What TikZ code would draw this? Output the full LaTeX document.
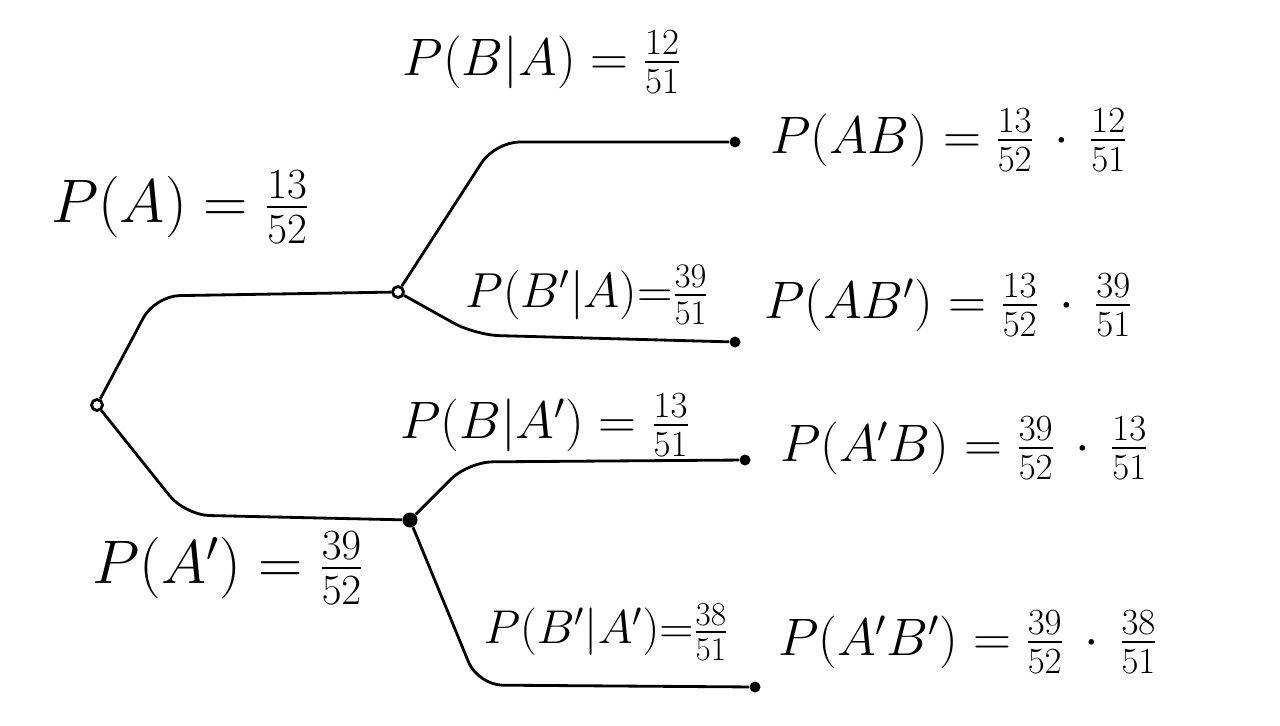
\RequirePackage{fix-cm}
\documentclass[tikz,border=0pt]{standalone}
\usepackage{amsmath}
\usepackage{tikz}
\usetikzlibrary{positioning}
\tikzset{
  branch/.style={line width=1.6pt, rounded corners=14pt},
  forkdot/.style={circle, draw, line width=1.6pt, fill=white, inner sep=0pt, minimum size=0.22cm},
  leafdot/.style={circle, fill, inner sep=0pt, minimum size=0.22cm},
  lbl/.style={font=\fontsize{30}{34}\selectfont, inner sep=1pt},
  biglbl/.style={lbl, font=\fontsize{35}{40}\selectfont}
}

\begin{document}
\begin{tikzpicture}[x=0.02cm, y=-0.02cm]
  \useasboundingbox (0,0) rectangle (1280,726);

  % tree points
  \node[forkdot] (root) at (97,405) {};
  \node[forkdot] (nA) at (398,292) {};
  \node[leafdot, minimum size=0.3cm] (nAc) at (410,520) {};
  \node[leafdot] (lAB) at (735,142) {};
  \node[leafdot] (lABc) at (735,342) {};
  \node[leafdot] (lAcB) at (745,460) {};
  \node[leafdot] (lAcBc) at (755,687) {};

  % branches
  \draw[branch] (root) -- (155,296) -- (nA);
  \draw[branch] (root) -- (185,515) -- (nAc);
  \draw[branch] (nA) -- (495,142) -- (lAB);
  \draw[branch] (nA) -- (475,335) -- (lABc);
  \draw[branch] (nAc) -- (468,462) -- (lAcB);
  \draw[branch] (nAc) -- (478,685) -- (lAcBc);

  % probabilities on the branches
  \node[biglbl] (pA) at (180,207) {$P(A)=\tfrac{13}{52}$};
  \node[biglbl] (pAc) at (228,568) {$P(A')=\tfrac{39}{52}$};
  \node[lbl] (pBA) at (542,62) {$P(B|A)=\tfrac{12}{51}$};
  \node[lbl, font=\fontsize{28}{32}\selectfont] (pBcA) at (587,295) {$P(B'|A){=}\tfrac{39}{51}$};
  \node[lbl] (pBAc) at (545,425) {$P(B|A')=\tfrac{13}{51}$};
  \node[lbl, font=\fontsize{27}{31}\selectfont] (pBcAc) at (606,632) {$P(B'|A'){=}\tfrac{38}{51}$};

  % joint probabilities
  \node[lbl, anchor=west] (pAB) at (768,140) {$P(AB)=\tfrac{13}{52}\,\cdot\,\tfrac{12}{51}$};
  \node[lbl, anchor=west] (pABc) at (762,305) {$P(AB')=\tfrac{13}{52}\,\cdot\,\tfrac{39}{51}$};
  \node[lbl, anchor=west] (pAcB) at (778,448) {$P(A'B)=\tfrac{39}{52}\,\cdot\,\tfrac{13}{51}$};
  \node[lbl, anchor=west] (pAcBc) at (776,642) {$P(A'B')=\tfrac{39}{52}\,\cdot\,\tfrac{38}{51}$};
\end{tikzpicture}
\end{document}
